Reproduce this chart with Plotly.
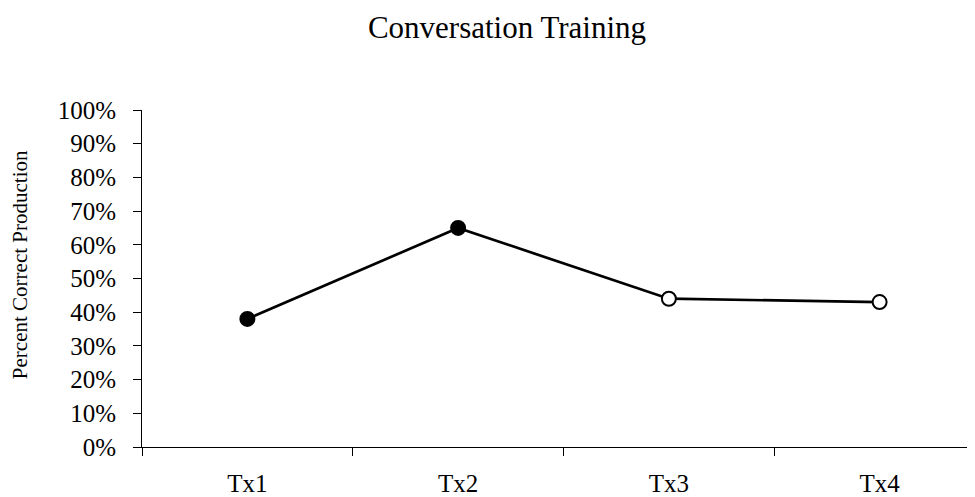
import plotly.graph_objects as go

categories = ["Tx1", "Tx2", "Tx3", "Tx4"]
values = [0.38, 0.65, 0.44, 0.43]
marker_fill = ["black", "black", "white", "white"]
y_ticks = [i / 10 for i in range(11)]

FONT = "Liberation Serif, Times New Roman, serif"

# page has an 8px body margin, so the figure is drawn 8px smaller
W, H = 967, 489
L, R, T, B = 134, 0, 102, 50
PW = W - L - R

fig = go.Figure()
fig.add_trace(go.Scatter(
    x=categories, y=values, mode="lines+markers",
    line=dict(color="black", width=2.7),
    marker=dict(size=14, color=marker_fill, line=dict(color="black", width=2)),
    showlegend=False, cliponaxis=False,
))

fig.update_layout(
    width=W, height=H,
    margin=dict(l=L, r=R, t=T, b=B),
    paper_bgcolor="white", plot_bgcolor="white",
    font=dict(family=FONT, color="black"),
    title=dict(text="Conversation Training", x=499 / W, xref="container",
               y=1 - 19 / H, yref="container", yanchor="middle", xanchor="center",
               font=dict(size=31, family=FONT, color="black")),
)
fig.update_xaxes(
    type="category", range=[-0.5, 3.5 - 10 / 211],
    showline=True, linecolor="black", linewidth=1,
    ticks="outside", tickson="boundaries", ticklen=8, tickcolor="black",
    ticklabelstandoff=14,
    tickfont=dict(size=25, family=FONT, color="black"),
    showgrid=False, zeroline=False, fixedrange=True,
)
fig.update_yaxes(
    range=[0, 1], tickvals=y_ticks, tickformat=".0%",
    showline=True, linecolor="black", linewidth=1,
    ticks="outside", ticklen=8, tickcolor="black",
    ticklabelstandoff=12,
    tickfont=dict(size=25, family=FONT, color="black"),
    showgrid=False, zeroline=False, fixedrange=True,
)
fig.add_annotation(
    text="Percent Correct Production", textangle=-90,
    xref="paper", yref="paper", x=(12 - L) / PW, y=(438.7 - 257) / (438.7 - 102),
    xanchor="center", yanchor="middle", showarrow=False,
    font=dict(size=21, family=FONT, color="black"),
)
fig.write_html("out.html")
